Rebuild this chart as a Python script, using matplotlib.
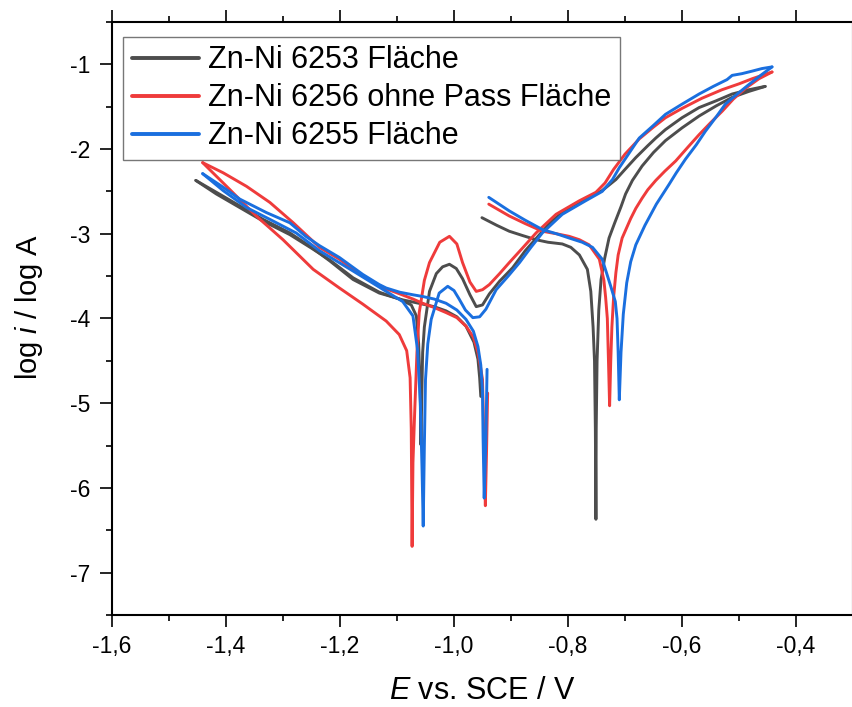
import matplotlib
matplotlib.use("Agg")
import matplotlib.pyplot as plt
from matplotlib.ticker import MultipleLocator, FuncFormatter

plt.rcParams['font.family'] = ['Liberation Sans', 'DejaVu Sans']
plt.rcParams['mathtext.fontset'] = 'custom'
plt.rcParams['mathtext.it'] = 'Liberation Sans:italic'
plt.rcParams['mathtext.rm'] = 'Liberation Sans'

labels = ["Zn-Ni 6253 Fläche", "Zn-Ni 6256 ohne Pass Fläche", "Zn-Ni 6255 Fläche"]
colors = ["#4d4d4d", "#ef3b3b", "#1a6fdf"]

# ---- Zn-Ni 6253 (grey) ----
grey_fwd_E = [-1.453, -1.417, -1.376, -1.335, -1.288, -1.250, -1.218, -1.177, -1.131, -1.096, -1.075, -1.066,
              -1.062, -1.0595, -1.058, -1.0565, -1.055, -1.052, -1.043, -1.031, -1.020, -1.008, -0.996, -0.985,
              -0.972, -0.961, -0.950, -0.938, -0.920, -0.897, -0.875, -0.850, -0.830, -0.810, -0.790, -0.775,
              -0.757, -0.740, -0.716, -0.700, -0.681, -0.660, -0.646, -0.629, -0.600, -0.570, -0.540, -0.512,
              -0.483, -0.454]
grey_fwd_logi = [-2.37, -2.53, -2.69, -2.85, -3.01, -3.17, -3.31, -3.52, -3.69, -3.77, -3.84, -3.97,
                 -4.3, -4.8, -5.49, -4.9, -4.4, -4.1, -3.68, -3.47, -3.39, -3.36, -3.41, -3.53,
                 -3.72, -3.86, -3.84, -3.71, -3.56, -3.40, -3.20, -3.01, -2.86, -2.75, -2.66, -2.61,
                 -2.55, -2.49, -2.36, -2.24, -2.10, -1.96, -1.87, -1.77, -1.63, -1.51, -1.43, -1.35,
                 -1.30, -1.26]
grey_rev_E = [-0.454, -0.483, -0.512, -0.540, -0.570, -0.600, -0.629, -0.650, -0.670, -0.687, -0.699, -0.707,
              -0.718, -0.728, -0.736, -0.742, -0.746, -0.749, -0.7505, -0.751, -0.752, -0.7535, -0.756, -0.760,
              -0.766, -0.780, -0.795, -0.810, -0.835, -0.856, -0.880, -0.903, -0.925, -0.951]
grey_rev_logi = [-1.26, -1.32, -1.39, -1.49, -1.61, -1.75, -1.90, -2.04, -2.20, -2.37, -2.53, -2.68,
                 -2.87, -3.05, -3.30, -3.54, -3.9, -4.5, -5.3, -6.37, -5.3, -4.5, -4.1, -3.68,
                 -3.42, -3.25, -3.16, -3.12, -3.10, -3.07, -3.02, -2.97, -2.90, -2.81]
grey_ret_E = [-0.953, -0.955, -0.958, -0.965, -0.979, -0.995, -1.014, -1.035, -1.055, -1.090, -1.131, -1.177,
              -1.218, -1.250, -1.288, -1.335, -1.376, -1.417, -1.453]
grey_ret_logi = [-4.92, -4.70, -4.48, -4.28, -4.09, -3.98, -3.91, -3.86, -3.83, -3.78, -3.70, -3.54,
                 -3.32, -3.16, -2.99, -2.83, -2.67, -2.51, -2.37]

# ---- Zn-Ni 6256 ohne Pass (red) ----
red_fwd_E = [-1.441, -1.393, -1.347, -1.300, -1.247, -1.201, -1.160, -1.119, -1.096, -1.083, -1.077, -1.075,
             -1.0735, -1.072, -1.069, -1.065, -1.061, -1.052, -1.043, -1.025, -1.008, -0.995, -0.985, -0.972,
             -0.961, -0.950, -0.938, -0.920, -0.903, -0.880, -0.856, -0.821, -0.780, -0.751, -0.735, -0.720,
             -0.700, -0.675, -0.650, -0.629, -0.600, -0.565, -0.530, -0.500, -0.477, -0.442]
red_fwd_logi = [-2.16, -2.48, -2.79, -3.07, -3.42, -3.64, -3.83, -4.03, -4.19, -4.38, -4.7, -5.3,
                -6.69, -5.7, -5.11, -4.4, -3.93, -3.55, -3.34, -3.10, -3.03, -3.12, -3.34, -3.57,
                -3.68, -3.66, -3.60, -3.47, -3.34, -3.17, -2.99, -2.77, -2.61, -2.51, -2.40, -2.24,
                -2.06, -1.88, -1.74, -1.63, -1.52, -1.40, -1.30, -1.23, -1.17, -1.09]
red_rev_E = [-0.442, -0.465, -0.488, -0.510, -0.529, -0.550, -0.570, -0.590, -0.611, -0.630, -0.646, -0.660,
             -0.670, -0.681, -0.690, -0.705, -0.712, -0.716, -0.720, -0.723, -0.725, -0.727, -0.729, -0.731,
             -0.734, -0.737, -0.745, -0.763, -0.780, -0.798, -0.820, -0.845, -0.875, -0.903, -0.939]
red_rev_logi = [-1.09, -1.17, -1.28, -1.41, -1.55, -1.69, -1.83, -1.98, -2.14, -2.26, -2.37, -2.48,
                -2.58, -2.70, -2.82, -3.05, -3.25, -3.46, -3.75, -4.1, -4.5, -5.03, -4.5, -4.0,
                -3.75, -3.55, -3.30, -3.13, -3.07, -3.03, -3.00, -2.97, -2.88, -2.79, -2.65]
red_ret_E = [-0.941, -0.943, -0.945, -0.947, -0.949, -0.950, -0.954, -0.958, -0.966, -0.979, -0.995, -1.014,
             -1.035, -1.055, -1.072, -1.095, -1.119, -1.131, -1.160, -1.201, -1.236, -1.282, -1.323, -1.364,
             -1.405, -1.441]
red_ret_logi = [-4.88, -5.6, -6.21, -5.6, -5.0, -4.72, -4.55, -4.40, -4.22, -4.09, -3.99, -3.93,
                -3.87, -3.82, -3.77, -3.71, -3.65, -3.61, -3.50, -3.30, -3.16, -2.87, -2.63, -2.44,
                -2.28, -2.16]

# ---- Zn-Ni 6255 (blue) ----
blue_fwd_E = [-1.441, -1.405, -1.364, -1.323, -1.277, -1.236, -1.177, -1.119, -1.090, -1.072, -1.064, -1.059,
              -1.056, -1.054, -1.052, -1.050, -1.046, -1.040, -1.026, -1.011, -1.000, -0.991, -0.980, -0.967,
              -0.955, -0.944, -0.926, -0.905, -0.885, -0.865, -0.845, -0.810, -0.769, -0.740, -0.722, -0.710,
              -0.690, -0.675, -0.650, -0.629, -0.600, -0.570, -0.545, -0.521, -0.512, -0.495, -0.477, -0.460,
              -0.442]
blue_fwd_logi = [-2.29, -2.49, -2.69, -2.83, -2.99, -3.20, -3.44, -3.68, -3.80, -3.97, -4.37, -5.0,
                 -5.8, -6.45, -5.5, -4.72, -4.30, -4.01, -3.70, -3.62, -3.67, -3.77, -3.90, -3.99,
                 -3.98, -3.89, -3.66, -3.50, -3.34, -3.16, -2.99, -2.77, -2.61, -2.50, -2.36, -2.22,
                 -2.02, -1.87, -1.72, -1.59, -1.47, -1.35, -1.26, -1.18, -1.13, -1.11, -1.08, -1.05,
                 -1.03]
blue_rev_E = [-0.442, -0.460, -0.483, -0.503, -0.524, -0.540, -0.559, -0.575, -0.594, -0.610, -0.623, -0.645,
              -0.665, -0.681, -0.690, -0.697, -0.703, -0.707, -0.710, -0.712, -0.714, -0.717, -0.725, -0.740,
              -0.757, -0.775, -0.798, -0.820, -0.845, -0.875, -0.903, -0.939]
blue_rev_logi = [-1.03, -1.12, -1.24, -1.35, -1.47, -1.62, -1.79, -1.95, -2.12, -2.28, -2.42, -2.65,
                 -2.90, -3.13, -3.33, -3.58, -3.95, -4.4, -4.96, -4.4, -4.0, -3.80, -3.62, -3.30,
                 -3.16, -3.10, -3.05, -3.00, -2.95, -2.84, -2.73, -2.57]
blue_ret_E = [-0.942, -0.944, -0.947, -0.949, -0.950, -0.953, -0.958, -0.966, -0.979, -0.995, -1.014, -1.035,
              -1.055, -1.072, -1.095, -1.119, -1.131, -1.160, -1.201, -1.236, -1.260, -1.288, -1.329, -1.376,
              -1.405, -1.441]
blue_ret_logi = [-4.60, -5.4, -6.12, -5.4, -4.85, -4.55, -4.33, -4.15, -4.01, -3.90, -3.82, -3.77,
                 -3.74, -3.72, -3.69, -3.64, -3.60, -3.48, -3.28, -3.14, -3.03, -2.87, -2.75, -2.59,
                 -2.45, -2.29]

series = [
    [(grey_fwd_E, grey_fwd_logi), (grey_rev_E, grey_rev_logi), (grey_ret_E, grey_ret_logi)],
    [(red_fwd_E, red_fwd_logi), (red_rev_E, red_rev_logi), (red_ret_E, red_ret_logi)],
    [(blue_fwd_E, blue_fwd_logi), (blue_rev_E, blue_rev_logi), (blue_ret_E, blue_ret_logi)],
]

fig = plt.figure(figsize=(8.53, 7.07), dpi=100)
ax = fig.add_axes([112 / 853, 92 / 707, 741 / 853, 593 / 707])

for segs, lab, col in zip(series, labels, colors):
    for i, (xs, ys) in enumerate(segs):
        ax.plot(xs, ys, color=col, lw=2.1, label=lab if i == 0 else None,
                solid_joinstyle='round', solid_capstyle='round')

ax.set_xlim(-1.6, -0.3)
ax.set_ylim(-7.5, -0.5)
ax.xaxis.set_major_locator(MultipleLocator(0.2))
ax.xaxis.set_minor_locator(MultipleLocator(0.1))
ax.yaxis.set_major_locator(MultipleLocator(1))
ax.yaxis.set_minor_locator(MultipleLocator(0.5))

def xfmt(v, pos):
    if v > -0.35:
        return ""
    return ("%.1f" % v).replace(".", ",")

def yfmt(v, pos):
    return "%d" % round(v)

ax.xaxis.set_major_formatter(FuncFormatter(xfmt))
ax.yaxis.set_major_formatter(FuncFormatter(yfmt))

ax.tick_params(which='both', direction='out', top=True, right=False, width=1.2, labelsize=16.5)
ax.tick_params(which='major', length=8.5)
ax.tick_params(which='minor', length=4.5)
ax.tick_params(axis='x', pad=6)
ax.tick_params(axis='y', pad=7)
for sp in ax.spines.values():
    sp.set_linewidth(1.5)

ax.set_xlabel(r"$\mathit{E}$ vs. SCE / V", fontsize=22)
ax.set_ylabel(r"log $\mathit{i}$ / log A", fontsize=21)
ax.xaxis.set_label_coords(0.5, -0.103)
ax.yaxis.set_label_coords(-0.09, 0.52)

leg = ax.legend(loc='upper left', bbox_to_anchor=(0.0149, 0.975), borderaxespad=0,
                fontsize=22, frameon=True, fancybox=False, edgecolor='#555555',
                handlelength=2.2, handletextpad=0.3, borderpad=0.28, labelspacing=0.26)
leg.get_frame().set_linewidth(1.0)
for l in leg.get_lines():
    l.set_linewidth(2.8)

fig.savefig("out.png", dpi=100)
